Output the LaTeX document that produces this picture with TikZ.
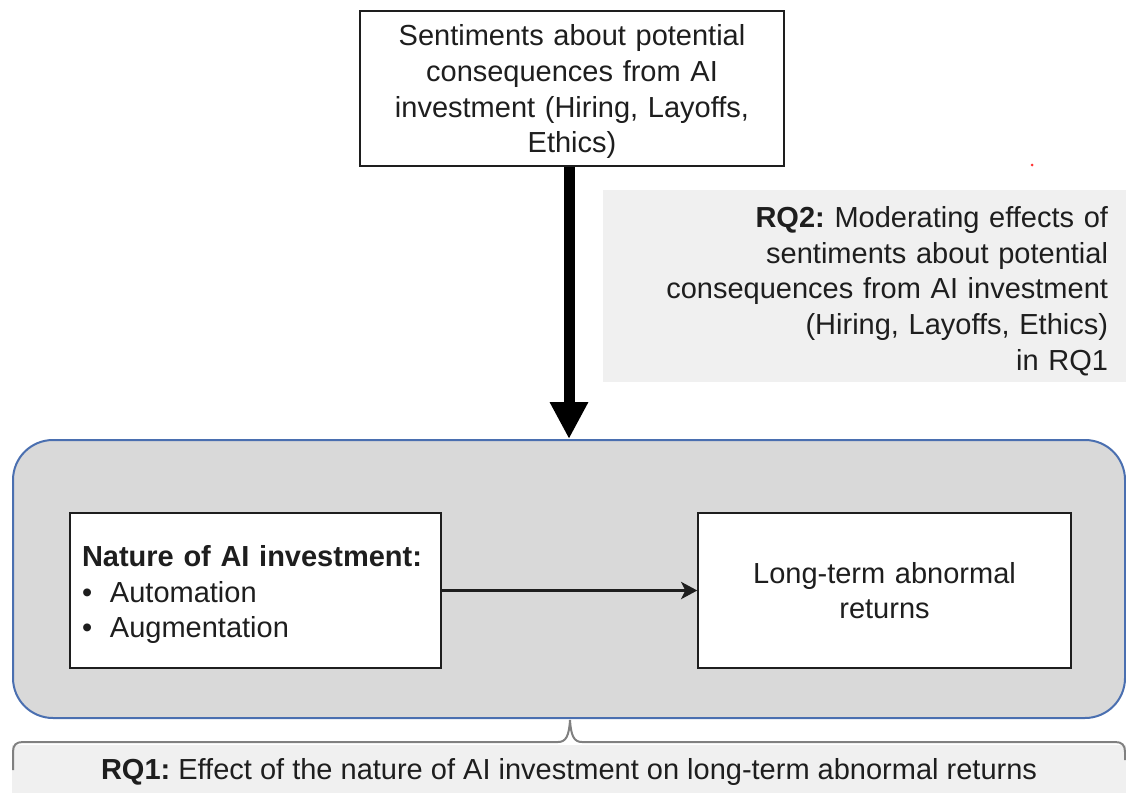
\documentclass[tikz,border=0pt]{standalone}
\usepackage{fontspec}
\setmainfont{Liberation Sans}
\usetikzlibrary{arrows.meta,calc}
\definecolor{panelgrey}{HTML}{D9D9D9}
\definecolor{notegrey}{HTML}{F0F0F0}
\definecolor{frameblue}{HTML}{4A6FB0}
\definecolor{bracegrey}{HTML}{808080}
\definecolor{inkgrey}{HTML}{1E1E1E}
\begin{document}
\frenchspacing
\begin{tikzpicture}[x=1pt,y=-1pt,
  every node/.style={font=\fontsize{29}{35.7}\selectfont, text=inkgrey},
  box/.style={draw=inkgrey, line width=1.5pt, fill=white, inner ysep=0pt,
    minimum height=155pt},
  note/.style={fill=notegrey, inner sep=0pt},
  % place the first baseline #1 above the node centre
  firstline/.style={text height=0pt, text depth=2*#1},
]
\useasboundingbox (0,0) rectangle (1126,792);

% grey panel holding the RQ1 model
\node[draw=frameblue, line width=2pt, fill=panelgrey, rounded corners=40pt,
  minimum width=1112pt, minimum height=278pt, inner sep=0pt] (frame) at (569,579) {};

% moderator box at the top
\node[box, minimum width=424pt, text width=400pt, inner xsep=12pt, align=center,
  firstline=42.8pt]
  (top) at (572,88.5)
  {Sentiments about potential\\consequences from AI\\investment (Hiring, Layoffs,\\Ethics)};

% RQ2 note
\node[note, minimum width=523pt, minimum height=192pt, text width=487pt, align=right,
  firstline=58.5pt]
  (rq2) at (864.5,286)
  {\textbf{RQ2:} Moderating effects of\\sentiments about potential\\consequences from AI investment\\(Hiring, Layoffs, Ethics)\\in RQ1};

% small red mark
\fill[red!80] (1032,165) circle (1.5pt);

% inner boxes
\node[box, minimum width=371pt, text width=347pt, inner xsep=12pt, align=left,
  firstline=24pt]
  (nature) at (255.5,590.5)
  {\textbf{Nature of AI investment:}\\\makebox[28pt][l]{•}Automation\\\makebox[28pt][l]{•}Augmentation};
\node[box, minimum width=373pt, text width=349pt, inner xsep=12pt, align=center]
  (returns) at (884.5,590.5)
  {Long-term abnormal\\returns};

% connectors
\draw[line width=3pt, inkgrey, -{Stealth[length=16pt 0, width=17pt 0, inset=4pt 0]}]
  (nature.east) -- (returns.west);
\draw[line width=11pt, black, -{Triangle[length=37pt 0, width=36pt 0]}]
  (frame.north |- top.south) -- (frame.north);

% RQ1 note with its brace
\node[note, minimum width=1114pt, minimum height=53pt] (rq1) at (569,771.5)
  {\textbf{RQ1:} Effect of the nature of AI investment on long-term abnormal returns};
\draw[bracegrey, line width=2pt]
  (13,770) -- (13,752) .. controls (13,745) and (16,742) .. (23,742)
  -- (558,742) .. controls (566,742) and (569,736) .. (570,720)
  .. controls (571,736) and (574,742) .. (582,742)
  -- (1115,742) .. controls (1122,742) and (1125,745) .. (1125,752) -- (1125,760);
\end{tikzpicture}
\end{document}
